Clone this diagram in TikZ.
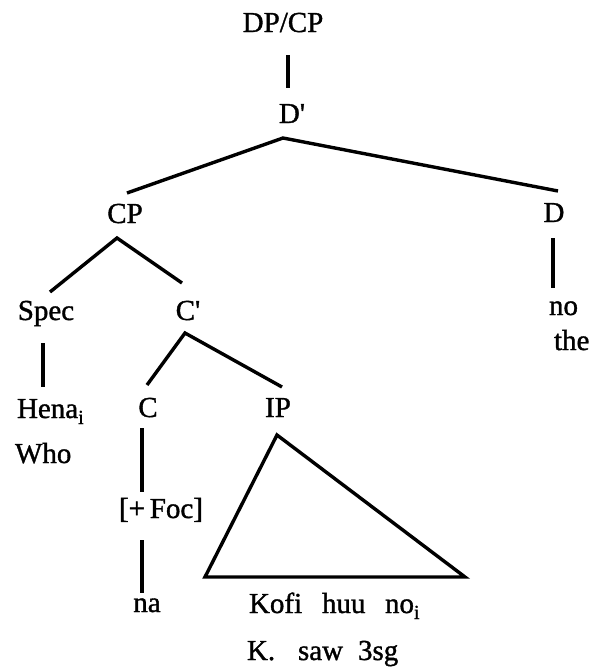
\documentclass[tikz,border=0pt]{standalone}
\usepackage{fontspec}
\setmainfont{Liberation Serif}[FakeBold=1.2]
\newcommand{\lowsub}[1]{\raisebox{-6pt}{\fontsize{20}{20}\selectfont #1}}
\begin{document}
\begin{tikzpicture}[x=1pt,y=-1pt,
  lbl/.style={inner sep=0pt,outer sep=0pt,anchor=base,font=\fontsize{29}{33}\selectfont},
  lblw/.style={lbl,anchor=base west},
  branch/.style={line width=3.4pt}]
\useasboundingbox (0,0) rectangle (591,667);
% nodes
\node[lbl] (dpcp) at (283,32) {DP/CP};
\node[lbl] (dbar) at (292,123) {D\textquotesingle};
\node[lbl] (cp) at (125,223) {CP};
\node[lbl] (d) at (554,222) {D};
\node[lbl] (spec) at (46,320) {Spec};
\node[lbl] (cbar) at (188,320) {C\textquotesingle};
\node[lblw] (hena) at (17,418) {Hena\lowsub{i}};
\node[lblw] (who) at (15,463) {Who};
\node[lbl] (c) at (148,417) {C};
\node[lbl] (ip) at (278,417) {IP};
\node[lbl] (foc) at (161,518) {[+\,Foc]};
\node[lbl] (na) at (147,612) {na};
\node[lblw] (kofi) at (249,613) {Kofi};
\node[lblw] (huu) at (322,613) {huu};
\node[lblw] (noi) at (385,613) {no\lowsub{i}};
\node[lblw] (kg) at (247,660) {K.};
\node[lblw] (saw) at (298,660) {saw};
\node[lblw] (tsg) at (358,660) {3sg};
\node[lblw] (no) at (549,315) {no};
\node[lblw] (the) at (554,350) {the};
% branches
\draw[branch] ([shift={(5,23)}]dpcp.base) -- ([shift={(-4,-35)}]dbar.base);
\draw[branch] ([shift={(2,-30)}]cp.base) -- ([shift={(-9,15)}]dbar.base) -- ([shift={(4,-31)}]d.base);
\draw[branch] ([shift={(4,-28)}]spec.base) -- ([shift={(-8,15)}]cp.base) -- ([shift={(-6,-37)}]cbar.base);
\draw[branch] ([shift={(-3,23)}]spec.base) -- ([shift={(26,-31)}]hena.base west);
\draw[branch] ([shift={(-1,-32)}]c.base) -- ([shift={(-3,13)}]cbar.base) -- ([shift={(4,-30)}]ip.base);
\draw[branch] ([shift={(-6,11)}]c.base) -- ([shift={(-19,-26)}]foc.base);
\draw[branch] ([shift={(-19,22)}]foc.base) -- ([shift={(-5,-19)}]na.base);
\draw[branch] ([shift={(-1,16)}]d.base) -- ([shift={(4,-27)}]no.base west);
\draw[branch,line join=miter] ([shift={(-1,18)}]ip.base) -- ([shift={(-44,-36)}]kofi.base west) -- ([shift={(216,-36)}]kofi.base west) -- cycle;
\end{tikzpicture}
\end{document}
